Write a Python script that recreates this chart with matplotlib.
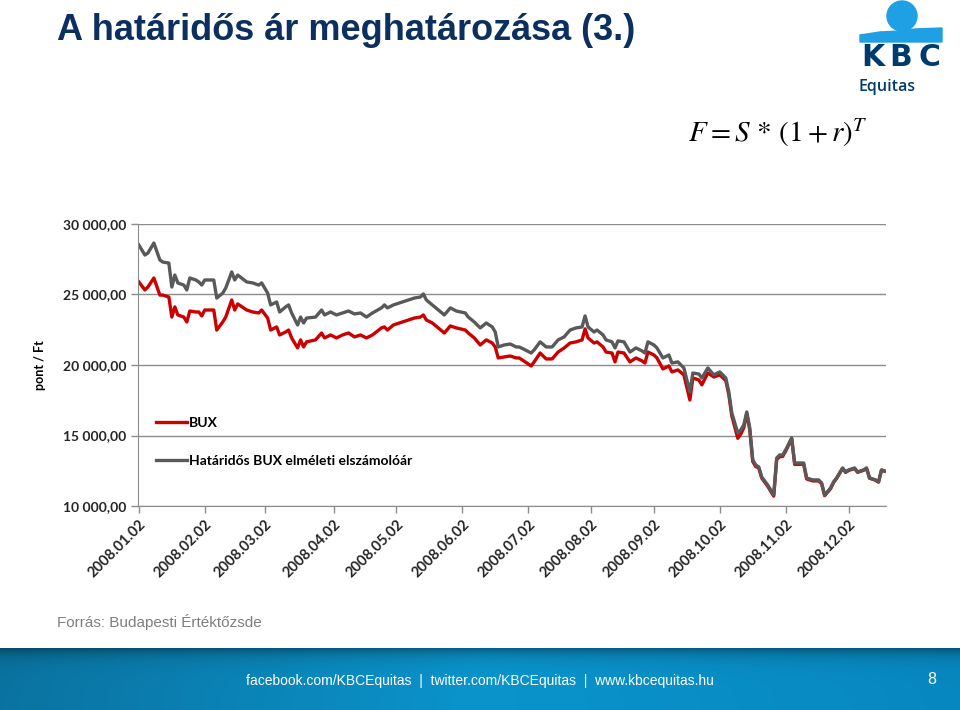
import numpy as np
import matplotlib
matplotlib.use('Agg')
import matplotlib.pyplot as plt
from matplotlib.patches import Circle, Polygon
from matplotlib.transforms import IdentityTransform

# trading day index, 0 = 2008.01.02
day = [0, 2, 3, 5, 7, 8, 10, 11, 12, 13, 15, 16, 17, 19, 20, 21, 22, 25, 26, 28,
       29, 31, 32, 33, 36, 38, 40, 41, 43, 44, 46, 47, 49, 50, 51, 53, 54, 55, 56, 59,
       61, 62, 64, 66, 68, 70, 72, 74, 76, 78, 81, 82, 83, 85, 88, 90, 92, 94, 95, 96,
       98, 100, 102, 104, 106, 109, 110, 112, 114, 116, 118, 119, 120, 122, 124, 126, 127, 129, 131, 132,
       134, 136, 138, 140, 142, 144, 146, 148, 149, 150, 152, 153, 155, 156, 158, 159, 160, 162, 164, 166,
       168, 169, 170, 172, 173, 175, 177, 178, 180, 182, 184, 185, 187, 188, 190, 192, 194, 196, 197, 198,
       200, 201, 202, 203, 204, 205, 206, 207, 208, 210, 212, 213, 214, 215, 216, 218, 219, 220, 222, 223,
       225, 227, 228, 229, 231, 232, 233, 235, 236, 237, 239, 240, 242, 243, 244, 246, 247, 248, 249]

bux = [25890, 25320, 25530, 26170, 24960, 24960, 24820, 23400, 24120, 23550, 23400, 23050, 23830, 23760, 23760, 23480, 23900, 23900, 22480, 23050,
       23400, 24610, 23900, 24330, 23900, 23760, 23690, 23900, 23330, 22480, 22700, 22130, 22340, 22480, 21920, 21210, 21780, 21280, 21640, 21780,
       22270, 21920, 22130, 21920, 22130, 22270, 21990, 22130, 21920, 22130, 22630, 22700, 22480, 22840, 23050, 23190, 23330, 23400, 23550, 23190,
       22980, 22630, 22270, 22770, 22630, 22480, 22270, 21920, 21420, 21780, 21560, 21280, 20500, 20570, 20640, 20500, 20500, 20220, 19930, 20220,
       20850, 20430, 20430, 20920, 21210, 21560, 21640, 21780, 22560, 21920, 21560, 21640, 21280, 20920, 20850, 20220, 20920, 20850, 20220, 20500,
       20290, 20140, 20920, 20710, 20500, 19720, 19930, 19510, 19650, 19300, 17520, 19080, 18940, 18590, 19430, 19150, 19300, 18900, 17900, 16400,
       14800, 15100, 15550, 16550, 15400, 13150, 12800, 12700, 11980, 11400, 10700, 13300, 13500, 13520, 13900, 14760, 12950, 12950, 12970, 11920,
       11780, 11780, 11580, 10730, 11230, 11670, 11950, 12660, 12380, 12520, 12660, 12390, 12530, 12670, 11970, 11830, 11690, 12540, 12470]

futures = [28510, 27800, 27940, 28650, 27450, 27300, 27230, 25530, 26380, 25820, 25670, 25320, 26170, 26030, 25890, 25670, 26030, 26030, 24750, 25100,
           25460, 26600, 26030, 26380, 25890, 25820, 25670, 25820, 25100, 24260, 24470, 23760, 24120, 24260, 23690, 22840, 23400, 22980, 23330, 23400,
           23900, 23550, 23760, 23550, 23690, 23830, 23620, 23690, 23400, 23690, 24050, 24260, 24050, 24260, 24470, 24610, 24750, 24820, 25040, 24610,
           24260, 23900, 23550, 24050, 23830, 23690, 23400, 23050, 22630, 22980, 22700, 22340, 21280, 21420, 21490, 21280, 21280, 21070, 20850, 21070,
           21640, 21280, 21280, 21780, 21990, 22480, 22630, 22700, 23480, 22700, 22340, 22480, 22130, 21780, 21640, 21210, 21710, 21640, 20920, 21210,
           21000, 20850, 21640, 21420, 21210, 20500, 20710, 20140, 20220, 19790, 18090, 19430, 19360, 19080, 19790, 19300, 19510, 19080, 18090, 16600,
           15180, 15390, 15750, 16670, 15540, 13270, 12910, 12770, 12060, 11490, 10780, 13410, 13620, 13620, 13980, 14830, 13050, 13050, 13050, 11990,
           11850, 11850, 11640, 10780, 11280, 11710, 11990, 12700, 12420, 12560, 12700, 12420, 12560, 12700, 11990, 11850, 11710, 12560, 12490]

tick_days = [0, 22, 42, 65, 86, 108, 130, 151, 172, 194, 216, 237]
tick_labels = ['2008.01.02', '2008.02.02', '2008.03.02', '2008.04.02', '2008.05.02', '2008.06.02',
               '2008.07.02', '2008.08.02', '2008.09.02', '2008.10.02', '2008.11.02', '2008.12.02']
y_ticks = [10000, 15000, 20000, 25000, 30000]

navy = '#0b2f5f'
logo_blue = '#1fa0e4'
logo_navy = '#003b70'

fig = plt.figure(figsize=(9.6, 7.1), dpi=100)
fig.patch.set_facecolor('white')

# chart
ax = fig.add_axes([138 / 960, 1 - 506 / 710, 748 / 960, 282 / 710])
ax.plot(day, bux, color='#cc0000', lw=2.4, label='BUX', solid_joinstyle='round')
ax.plot(day, futures, color='#595959', lw=2.4, label='Határidős BUX elméleti elszámolóár',
        solid_joinstyle='round')
ax.set_xlim(-0.3, 249.5)
ax.set_ylim(10000, 30000)
ax.set_yticks(y_ticks)
ax.set_yticklabels([f'{v:,.2f}'.replace(',', ' ').replace('.', ',') for v in y_ticks])
ax.set_xticks(tick_days)
ax.set_xticklabels(tick_labels, rotation=45, ha='right', rotation_mode='anchor')
ax.grid(axis='y', color='#8c8c8c', lw=1)
ax.set_axisbelow(True)
for s in ['top', 'right']:
    ax.spines[s].set_visible(False)
for s in ['left', 'bottom']:
    ax.spines[s].set_color('#8c8c8c')
ax.tick_params(axis='both', color='#8c8c8c', length=5, width=1)
for lab in ax.get_yticklabels():
    lab.set_fontfamily('Lato')
    lab.set_fontweight('bold')
    lab.set_fontsize(10)
    lab.set_color('#262626')
for lab in ax.get_xticklabels():
    lab.set_fontfamily('Lato')
    lab.set_fontweight('bold')
    lab.set_fontsize(10.5)
    lab.set_color('#262626')
ax.set_ylabel('pont / Ft', fontfamily='Lato', fontweight='bold', fontsize=9, labelpad=12)
ax.legend(loc='upper left', bbox_to_anchor=(0.008, 0.36), frameon=False,
          labelspacing=1.85, handlelength=2.2, handletextpad=0.15,
          prop={'family': 'Lato', 'weight': 'bold', 'size': 10})

# title and texts
fig.text(57 / 960, 1 - 31 / 710, 'A határidős ár meghatározása (3.)', family='Liberation Sans',
         fontweight='bold', fontsize=26, color=navy, va='center')
fig.text(688 / 960, 1 - 133 / 710, r'$F = S\,*\,(1+r)^{T}$', fontsize=21, va='center',
         math_fontfamily='stix')
fig.text(57 / 960, 1 - 622 / 710, 'Forrás: Budapesti Értéktőzsde', family='Liberation Sans',
         fontsize=11, color='#7f7f7f', va='center')

# logo
fig.patches.append(Circle((902, 710 - 16), 15, transform=IdentityTransform(),
                          color=logo_blue, figure=fig))
fig.patches.append(Polygon([(860, 710 - 42), (942, 710 - 42), (942, 710 - 28), (915, 710 - 29),
                            (900, 710 - 31), (880, 710 - 32), (860, 710 - 35)],
                           closed=True, transform=IdentityTransform(), color=logo_blue, figure=fig))
for letter, cx in zip('KBC', [873, 901, 929]):
    fig.text(cx / 960, 1 - 57.5 / 710, letter, family='DejaVu Sans', fontweight='bold',
             fontsize=21.5, color=logo_navy, ha='center', va='center')
fig.text(859 / 960, 1 - 87 / 710, 'Equitas', family='Open Sans', fontweight='semibold',
         fontsize=11.5, color=logo_navy, va='center')

# footer
fax = fig.add_axes([0, 0, 1, 62 / 710])
fax.set_axis_off()
hx = np.linspace(0, 1, 200)
vy = np.linspace(0, 1, 40)
c_left = np.array([0.04, 0.45, 0.63])
c_mid = np.array([0.04, 0.58, 0.80])
c_right = np.array([0.03, 0.53, 0.75])
w1 = np.clip(hx / 0.5, 0, 1)[:, None]
w2 = np.clip((hx - 0.5) / 0.5, 0, 1)[:, None]
base = np.where(hx[:, None] < 0.5, c_left * (1 - w1) + c_mid * w1, c_mid * (1 - w2) + c_right * w2)
shade = 1 - 0.35 * np.exp(-vy / 0.12)
img = np.clip(shade[:, None, None] * base[None, :, :], 0, 1)
fax.imshow(img, aspect='auto', extent=[0, 1, 0, 1], origin='upper')
fax.set_xlim(0, 1)
fax.set_ylim(0, 1)
fax.text(480 / 960, 0.47, 'facebook.com/KBCEquitas  |  twitter.com/KBCEquitas  |  www.kbcequitas.hu',
         family='Liberation Sans', fontsize=10, color='white', ha='center', va='center')
fax.text(932 / 960, 0.50, '8', family='Liberation Sans', fontsize=11.5, color='white',
         ha='center', va='center')

fig.savefig('out.png', dpi=100)
